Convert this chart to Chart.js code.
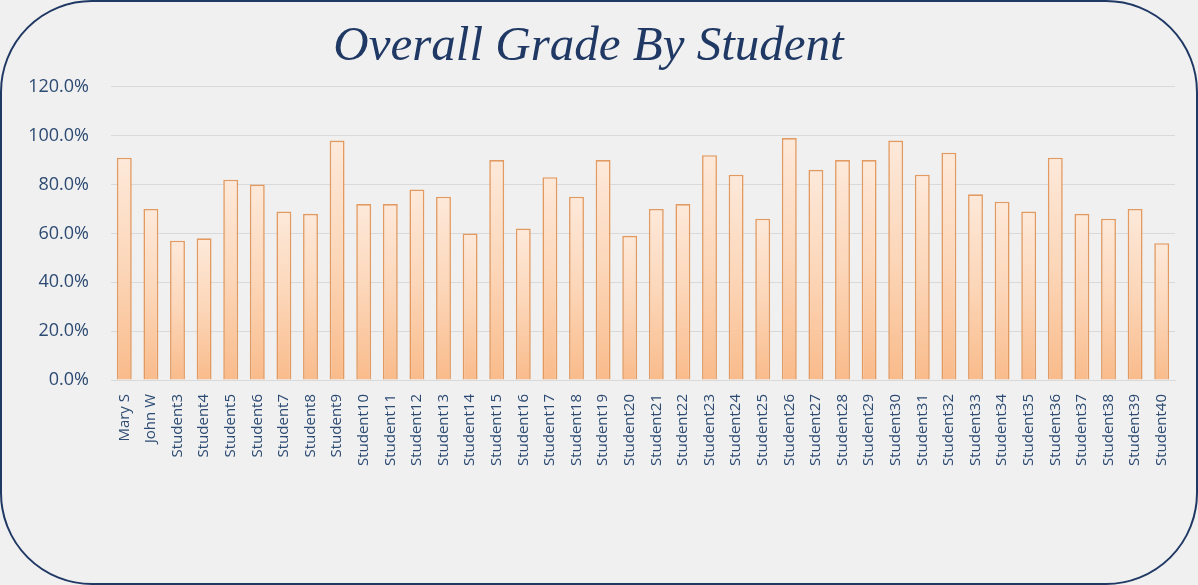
<!DOCTYPE html>
<html>
<head>
<meta charset="utf-8">
<script src="https://cdn.jsdelivr.net/npm/chart.js@4.4.0/dist/chart.umd.min.js"></script>
<style>
  html, body { margin: 0; padding: 0; background: #f0f0f0; }
  .frame {
    width: 1198px; height: 585px; box-sizing: border-box;
    border: 2px solid #1f3864; border-radius: 92px;
    background: #f0f0f0; overflow: hidden;
  }
  canvas { display: block; }
</style>
</head>
<body>
<div class="frame">
  <canvas id="grades" width="1194" height="581"></canvas>
</div>
<script>
// students on the x axis
const students = ["Mary S", "John W"];
for (let i = 3; i <= 40; i++) { students.push("Student" + i); }

// overall grade in percent
const grades = [91, 70, 57, 58, 82, 80, 69, 68, 98, 72,
                72, 78, 75, 60, 90, 62, 83, 75, 90, 59,
                70, 72, 92, 84, 66, 99, 86, 90, 90, 98,
                84, 93, 76, 73, 69, 91, 68, 66, 70, 56];

const yTicks = [0, 20, 40, 60, 80, 100, 120];

const navy = "#1f3864";
const labelColor = "#2c4a72";

// each bar is lighter on top and more orange at its base
function barFill(ctx) {
  const chart = ctx.chart;
  const y = chart.scales.y;
  if (!y || ctx.raw === undefined) return "#fcd5b4";
  const top = y.getPixelForValue(ctx.raw);
  const bottom = y.getPixelForValue(0);
  if (!isFinite(top) || !isFinite(bottom) || top === bottom) return "#fcd5b4";
  const g = chart.ctx.createLinearGradient(0, top, 0, bottom);
  g.addColorStop(0, "#fde9da");
  g.addColorStop(0.5, "#fcd6b8");
  g.addColorStop(1, "#f9bb8b");
  return g;
}

new Chart(document.getElementById("grades"), {
  type: "bar",
  data: {
    labels: students,
    datasets: [{
      label: "Overall Grade",
      data: grades,
      backgroundColor: barFill,
      borderColor: "#e39a60",
      borderWidth: 1.6,
      barPercentage: 0.56,
      categoryPercentage: 1.0
    }]
  },
  options: {
    responsive: false,
    animation: false,
    layout: { padding: { left: 0, right: 21, top: 0, bottom: 103 } },
    plugins: {
      legend: { display: false },
      tooltip: { enabled: false },
      title: {
        display: true,
        text: "Overall Grade By Student",
        color: navy,
        font: { family: "Liberation Serif", style: "italic", size: 49, weight: "normal" },
        padding: { top: 16, bottom: 10 }
      }
    },
    scales: {
      y: {
        min: 0,
        max: 120,
        afterBuildTicks: function (s) { s.ticks = yTicks.map(v => ({ value: v })); },
        afterFit: function (s) { s.width = 109; },
        border: { display: false },
        grid: { color: "#d9d9d9", lineWidth: 1, drawTicks: false },
        ticks: {
          padding: 22,
          color: labelColor,
          font: { family: "Open Sans", size: 18 },
          callback: v => v.toFixed(1) + "%"
        }
      },
      x: {
        afterFit: function (s) { s.height = 100; },
        border: { display: true, color: "#d9d9d9" },
        grid: { display: false },
        ticks: {
          autoSkip: false,
          minRotation: 90,
          maxRotation: 90,
          padding: 6,
          color: labelColor,
          font: { family: "Open Sans", size: 15 }
        }
      }
    }
  }
});
</script>
</body>
</html>
